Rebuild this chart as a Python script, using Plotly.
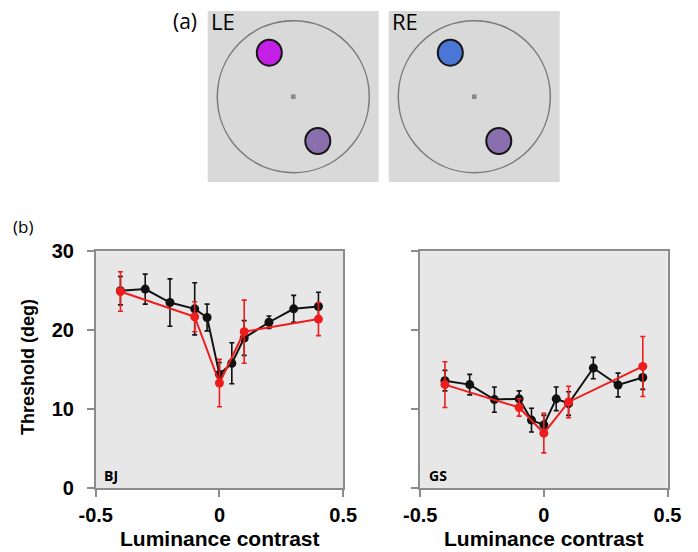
import plotly.graph_objects as go

W, H = 698, 552

# ---------------- data (panel b) ----------------
# BJ (left)
bj_black_x = [-0.4, -0.3, -0.2, -0.1, -0.05, 0.0, 0.05, 0.1, 0.2, 0.3, 0.4]
bj_black_y = [25.0, 25.2, 23.5, 22.7, 21.6, 14.4, 15.8, 19.0, 21.0, 22.7, 23.0]
bj_black_e = [1.8, 1.9, 3.0, 3.3, 1.7, 1.5, 2.6, 2.2, 0.8, 1.7, 1.8]
bj_red_x = [-0.4, -0.1, 0.0, 0.1, 0.4]
bj_red_y = [24.9, 21.7, 13.3, 19.8, 21.4]
bj_red_e = [2.5, 1.9, 3.0, 4.0, 2.1]

# GS (right)
gs_black_x = [-0.4, -0.3, -0.2, -0.1, -0.05, 0.0, 0.05, 0.1, 0.2, 0.3, 0.4]
gs_black_y = [13.6, 13.1, 11.2, 11.3, 8.6, 8.0, 11.3, 10.7, 15.2, 13.05, 14.0]
gs_black_e = [1.3, 1.3, 1.6, 1.0, 1.5, 1.2, 1.5, 1.5, 1.35, 1.5, 1.5]
gs_red_x = [-0.4, -0.1, 0.0, 0.1, 0.4]
gs_red_y = [13.1, 10.2, 6.95, 10.9, 15.4]
gs_red_e = [2.9, 1.1, 2.5, 2.0, 3.8]

x_ticks = [-0.5, 0, 0.5]
x_ticktext = ["-0.5", "0", "0.5"]
y_ticks = [0, 10, 20, 30]
y_ticktext = ["0", "10", "20", "30"]

panel_labels = ["BJ", "GS"]

# ---------------- stimulus schematic (panel a), in pixels ----------------
eye_labels = ["LE", "RE"]
square_left = [207.7, 388.7]
square_top, square_size = 11, 171
field_cx = [293.3, 474.3]
field_cy, field_r = 96.7, 76
upper_disc_color = ["#c41fe4", "#4a77d6"]
upper_dx, upper_dy = -24, -44
lower_dx, lower_dy = 24.5, 44.3
disc_rx, disc_ry = 12.5, 13
lower_disc_color = "#8a6fae"


def px(x):
    return x / W


def py(y):
    return 1 - y / H


fig = go.Figure()

BLACK = "#111111"
RED = "#ee1c1c"


def add_series(x, y, e, color, xa, ya):
    fig.add_trace(go.Scatter(
        x=x, y=y, mode="lines+markers",
        line=dict(color=color, width=2),
        marker=dict(color=color, size=9),
        error_y=dict(type="data", array=e, visible=True, color=color,
                     thickness=1.6, width=2.5),
        xaxis=xa, yaxis=ya, showlegend=False, hoverinfo="skip"))


add_series(bj_black_x, bj_black_y, bj_black_e, BLACK, "x", "y")
add_series(bj_red_x, bj_red_y, bj_red_e, RED, "x", "y")
add_series(gs_black_x, gs_black_y, gs_black_e, BLACK, "x2", "y2")
add_series(gs_red_x, gs_red_y, gs_red_e, RED, "x2", "y2")

tickfont = dict(family="Liberation Sans, Arial", size=20, color="black", weight="bold")
axis_common = dict(showline=True, mirror=True, linecolor="#8c8c8c", linewidth=1.5,
                   ticks="outside", ticklen=7, tickcolor="#8c8c8c", tickwidth=1.5,
                   showgrid=False, zeroline=False, automargin=False)

ydom = [py(488.0), py(251.2)]
fig.update_layout(
    width=W, height=H,
    margin=dict(l=0, r=0, t=0, b=0),
    paper_bgcolor="white",
    plot_bgcolor="#e7e7e7",
    xaxis=dict(domain=[px(95.7), px(343.2)], range=[-0.5, 0.5],
               tickvals=x_ticks, ticktext=x_ticktext, tickfont=tickfont,
               ticklabelstandoff=1, anchor="y", **axis_common),
    yaxis=dict(domain=ydom, range=[0, 30], tickvals=y_ticks, ticktext=y_ticktext,
               tickfont=tickfont, ticklabelstandoff=9, anchor="x", **axis_common),
    xaxis2=dict(domain=[px(420.2), px(667.5)], range=[-0.5, 0.5],
                tickvals=x_ticks, ticktext=x_ticktext, tickfont=tickfont,
                ticklabelstandoff=1, anchor="y2", **axis_common),
    yaxis2=dict(domain=ydom, range=[0, 30], tickvals=y_ticks, showticklabels=False,
                anchor="x2", **axis_common),
)

shapes = []
annotations = []
for i in range(2):
    L = square_left[i]
    shapes.append(dict(type="rect", xref="paper", yref="paper",
                       x0=px(L), x1=px(L + square_size),
                       y0=py(square_top + square_size), y1=py(square_top),
                       fillcolor="#d9d9d9", line=dict(width=0), layer="below"))
    cx = field_cx[i]
    shapes.append(dict(type="circle", xref="paper", yref="paper",
                       x0=px(cx - field_r), x1=px(cx + field_r),
                       y0=py(field_cy + field_r), y1=py(field_cy - field_r),
                       line=dict(color="#7a7a7a", width=1.5)))
    shapes.append(dict(type="rect", xref="paper", yref="paper",
                       x0=px(cx - 2.3), x1=px(cx + 2.3),
                       y0=py(field_cy + 2.3), y1=py(field_cy - 2.3),
                       fillcolor="#8a8a8a", line=dict(width=0)))
    for dx, dy, col in [(upper_dx, upper_dy, upper_disc_color[i]),
                        (lower_dx, lower_dy, lower_disc_color)]:
        ex, ey = cx + dx, field_cy + dy
        shapes.append(dict(type="circle", xref="paper", yref="paper",
                           x0=px(ex - disc_rx), x1=px(ex + disc_rx),
                           y0=py(ey + disc_ry), y1=py(ey - disc_ry),
                           fillcolor=col, line=dict(color="#151515", width=2)))
    annotations.append(dict(text=eye_labels[i], xref="paper", yref="paper",
                            x=px(L + 1), y=py(21), xanchor="left", yanchor="middle",
                            showarrow=False,
                            font=dict(family="Open Sans", size=22, color="black")))

annotations.append(dict(text="(a)", xref="paper", yref="paper", x=px(171), y=py(21),
                        xanchor="left", yanchor="middle", showarrow=False,
                        font=dict(family="Open Sans", size=21, color="black")))
annotations.append(dict(text="(b)", xref="paper", yref="paper", x=px(11), y=py(226),
                        xanchor="left", yanchor="middle", showarrow=False,
                        font=dict(family="Open Sans", size=17, color="black")))

# axis titles
for cxp in [219.5, 543.8]:
    annotations.append(dict(text="Luminance contrast", xref="paper", yref="paper",
                            x=px(cxp), y=py(551.5), xanchor="center", yanchor="bottom",
                            showarrow=False,
                            font=dict(family="Liberation Sans, Arial", size=21,
                                      color="black", weight="bold")))
annotations.append(dict(text="Threshold (deg)", xref="paper", yref="paper",
                        x=px(28), y=py(367), xanchor="center", yanchor="middle",
                        textangle=-90, showarrow=False,
                        font=dict(family="Liberation Sans, Arial", size=18,
                                  color="black", weight="bold")))

# panel subject labels
for lbl, xl in zip(panel_labels, [102, 427]):
    annotations.append(dict(text=lbl, xref="paper", yref="paper", x=px(xl), y=py(475),
                            xanchor="left", yanchor="middle", showarrow=False,
                            font=dict(family="Open Sans", size=14, color="black",
                                      weight="bold")))

fig.update_layout(shapes=shapes, annotations=annotations)

fig.write_html("out.html")
